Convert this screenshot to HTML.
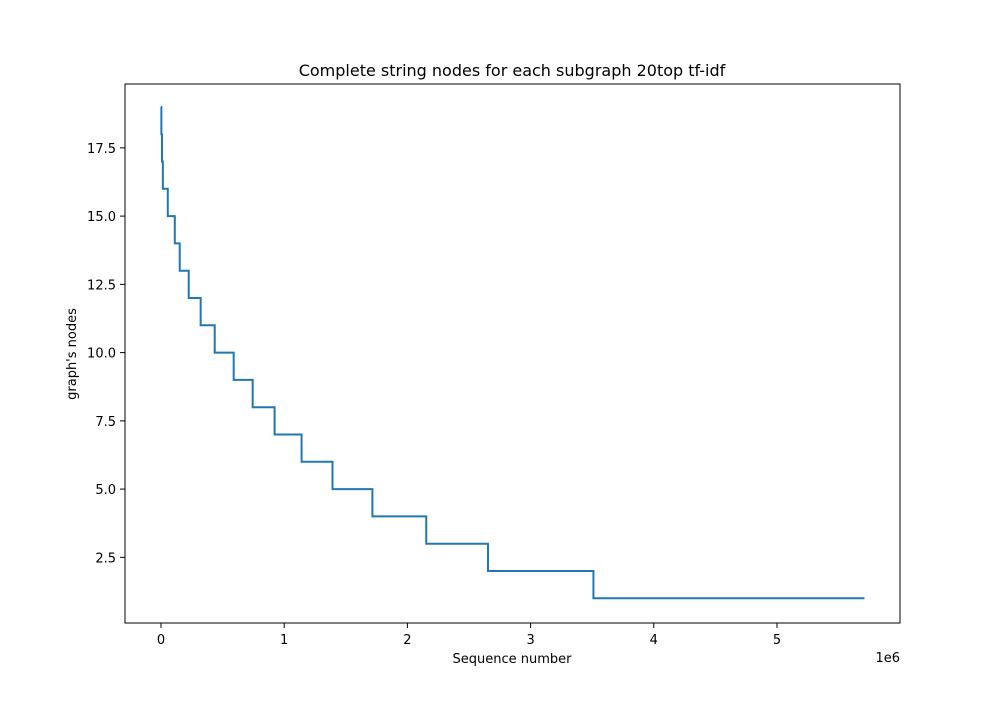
<!DOCTYPE html>
<html><head><meta charset="utf-8"><style>
body{margin:0;background:#fff}
svg text{font-family:"DejaVu Sans","Liberation Sans",sans-serif;fill:#000}
</style></head><body>
<svg id="chart" width="1000" height="700">
<rect width="1000" height="700" fill="#fff"/>
<text x="512" y="76" font-size="16" text-anchor="middle">Complete string nodes for each subgraph 20top tf-idf</text>
<g id="ticks"></g>
<path id="line" fill="none" stroke="#1f77b4" stroke-width="2"/>
<rect x="125" y="84" width="775" height="539" fill="none" stroke="#000" stroke-width="1"/>
<text x="512" y="663" font-size="13" text-anchor="middle">Sequence number</text>
<text x="900" y="662" font-size="13" text-anchor="end">1e6</text>
<text transform="translate(76,354) rotate(-90)" font-size="13" text-anchor="middle">graph's nodes</text>
</svg>
<script>
const values=[19,18,17,16,15,14,13,12,11,10,9,8,7,6,5,4,3,2,1];
const starts=[0,0.003,0.008,0.015,0.055,0.112,0.152,0.225,0.322,0.436,0.59,0.744,0.922,1.141,1.392,1.716,2.153,2.654,3.51];
const endX=5.71;
const xTicks=[0,1,2,3,4,5];
const yTicks=[2.5,5.0,7.5,10.0,12.5,15.0,17.5];
function px(v){return 161+123.2*v;}
function py(v){return 598.3-27.3*(v-1);}
let d='';
for(let i=0;i<values.length;i++){
  const x0=px(starts[i]), x1=px(i+1<values.length?starts[i+1]:endX), y=py(values[i]);
  d+=(i===0?'M':'L')+x0+','+y+' L'+x1+','+y+' ';
}
document.getElementById('line').setAttribute('d',d);
const g=document.getElementById('ticks');
const NS='http://www.w3.org/2000/svg';
xTicks.forEach(t=>{
  const l=document.createElementNS(NS,'line');
  l.setAttribute('x1',px(t));l.setAttribute('x2',px(t));l.setAttribute('y1',623);l.setAttribute('y2',628);l.setAttribute('stroke','#000');
  
  
  g.appendChild(l);
  const tx=document.createElementNS(NS,'text');
  tx.setAttribute('x',px(t));tx.setAttribute('y',644);tx.setAttribute('font-size','13');tx.setAttribute('text-anchor','middle');
  tx.textContent=t;
  
  
  g.appendChild(tx);
});
yTicks.forEach(t=>{
  const l=document.createElementNS(NS,'line');
  l.setAttribute('x1',120);l.setAttribute('x2',125);l.setAttribute('y1',py(t));l.setAttribute('y2',py(t));l.setAttribute('stroke','#000');
  
  
  g.appendChild(l);
  const tx=document.createElementNS(NS,'text');
  tx.setAttribute('x',116);tx.setAttribute('y',py(t)+5);tx.setAttribute('font-size','13');tx.setAttribute('text-anchor','end');
  tx.textContent=t.toFixed(1);
  
  
  g.appendChild(tx);
});
</script>
</body></html>
